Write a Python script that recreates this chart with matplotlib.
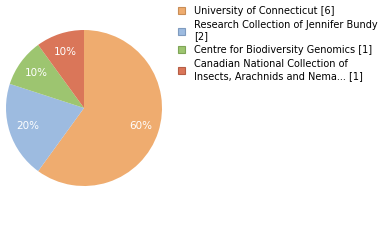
import matplotlib.pyplot as plt
from matplotlib.patches import Patch

labels = [
    "University of Connecticut [6]",
    "Research Collection of Jennifer Bundy\n[2]",
    "Centre for Biodiversity Genomics [1]",
    "Canadian National Collection of\nInsects, Arachnids and Nema... [1]",
]
counts = [6, 2, 1, 1]
colors = ["#EFAC6F", "#9DBBE0", "#9DC570", "#DA7659"]
edge_colors = ["#C98E57", "#7F9BBF", "#7FA557", "#B65E45"]

fig = plt.figure(figsize=(3.8, 2.4), dpi=100)
# pie centred at about (84, 108) px with radius ~78 px
ax = fig.add_axes([(84 - 78) / 380, 1 - (108 + 78) / 240, 156 / 380, 156 / 240])

wedges, texts, autotexts = ax.pie(
    counts,
    colors=colors,
    startangle=90,
    counterclock=False,
    autopct="%d%%",
    pctdistance=0.76,
    wedgeprops=dict(linewidth=0),
    textprops=dict(color="white", fontsize=7.5),
)
ax.set_xlim(-1, 1)
ax.set_ylim(-1, 1)
ax.set_aspect("equal")

handles = [Patch(facecolor=c, edgecolor=e, linewidth=0.8) for c, e in zip(colors, edge_colors)]
fig.legend(
    handles,
    labels,
    loc="upper left",
    bbox_to_anchor=(171 / 380, 1 + 1 / 240),
    frameon=False,
    fontsize=7,
    handlelength=0.75,
    handleheight=0.75,
    handletextpad=0.95,
    labelspacing=0.4,
    borderpad=0.2,
)

fig.savefig("out.png", dpi=100)
